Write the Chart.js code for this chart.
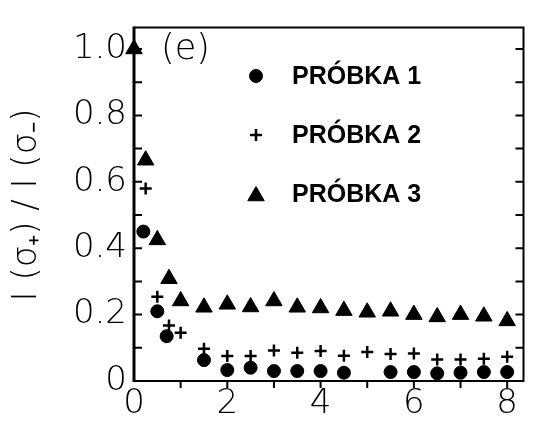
<!DOCTYPE html>
<html>
<head>
<meta charset="utf-8">
<script src="https://cdn.jsdelivr.net/npm/chart.js@4/dist/chart.umd.min.js"></script>
<style>
html,body{margin:0;padding:0;background:#fff;}
canvas{display:block;}
</style>
</head>
<body>
<canvas id="c" width="534" height="421"></canvas>
<script>
// ---- data ----
const seriesLabels = ['PRÓBKA 1', 'PRÓBKA 2', 'PRÓBKA 3'];
const x1 = [0.2, 0.5, 0.7, 1.5, 2.0, 2.5, 3.0, 3.5, 4.0, 4.5, 5.5, 6.0, 6.5, 7.0, 7.5, 8.0];
const y1 = [0.45, 0.21, 0.135, 0.063, 0.033, 0.04, 0.03, 0.03, 0.03, 0.025, 0.027, 0.027, 0.023, 0.025, 0.027, 0.027];
const x2 = [0.25, 0.5, 0.75, 1.0, 1.5, 2.0, 2.5, 3.0, 3.5, 4.0, 4.5, 5.0, 5.5, 6.0, 6.5, 7.0, 7.5, 8.0];
const y2 = [0.58, 0.254, 0.167, 0.145, 0.097, 0.075, 0.075, 0.092, 0.085, 0.09, 0.076, 0.087, 0.081, 0.083, 0.065, 0.065, 0.067, 0.073];
const x3 = [0, 0.25, 0.5, 0.75, 1.0, 1.5, 2.0, 2.5, 3.0, 3.5, 4.0, 4.5, 5.0, 5.5, 6.0, 6.5, 7.0, 7.5, 8.0];
const y3 = [1.0, 0.665, 0.425, 0.308, 0.241, 0.222, 0.231, 0.223, 0.241, 0.222, 0.22, 0.212, 0.207, 0.21, 0.2, 0.193, 0.2, 0.195, 0.181];
const xTickLabels = ['0', '2', '4', '6', '8'];
const yTickLabels = ['0', '0.2', '0.4', '0.6', '0.8', '1.0'];
const yTitle = 'I (σ₊) / I (σ₋)';
const panelLabel = '(e)';

const toPts = (xs, ys) => xs.map((x, i) => ({x: x, y: ys[i]}));

const LIGHT = '200 35px "DejaVu Sans"';

const framePlugin = {
  id: 'frame',
  afterDraw(chart) {
    const ctx = chart.ctx, a = chart.chartArea;
    const xs = chart.scales.x, ys = chart.scales.y;
    ctx.save();
    ctx.strokeStyle = '#000';
    ctx.lineCap = 'butt';
    // frame
    ctx.lineWidth = 2;
    ctx.beginPath();
    ctx.moveTo(a.left, a.top); ctx.lineTo(a.right, a.top);
    ctx.lineTo(a.right, a.bottom); ctx.lineTo(a.left, a.bottom);
    ctx.stroke();
    ctx.lineWidth = 3;
    ctx.beginPath();
    ctx.moveTo(a.left, a.top - 1); ctx.lineTo(a.left, a.bottom + 1);
    ctx.stroke();
    // y ticks (inward, both sides)
    ctx.lineWidth = 2;
    for (let i = 1; i <= 10; i++) {
      const py = ys.getPixelForValue(i / 10);
      ctx.beginPath();
      ctx.moveTo(a.left, py); ctx.lineTo(a.left + 8, py);
      ctx.moveTo(a.right, py); ctx.lineTo(a.right - 8, py);
      ctx.stroke();
    }
    // x ticks (outward)
    for (let i = 1; i <= 8; i++) {
      const px = xs.getPixelForValue(i);
      ctx.beginPath();
      ctx.moveTo(px, a.bottom); ctx.lineTo(px, a.bottom + 7);
      ctx.stroke();
    }
    // y axis title
    ctx.fillStyle = '#000';
    ctx.font = '200 34px "DejaVu Sans"';
    ctx.textAlign = 'center';
    ctx.textBaseline = 'middle';
    ctx.translate(27, 205);
    ctx.rotate(-Math.PI / 2);
    ctx.fillText(yTitle, 0, 0);
    ctx.restore();

    // panel label
    ctx.save();
    ctx.fillStyle = '#000';
    ctx.font = LIGHT;
    ctx.textAlign = 'left';
    ctx.textBaseline = 'middle';
    ctx.fillText(panelLabel, 161, 50);
    // legend
    const rowsY = [76, 135, 194];
    chart.data.datasets.forEach((ds, i) => {
      const style = {
        pointStyle: ds.pointStyle, radius: ds.pointRadius,
        rotation: 0, borderWidth: ds.borderWidth
      };
      ctx.fillStyle = '#000';
      ctx.strokeStyle = '#000';
      ctx.lineWidth = ds.borderWidth;
      Chart.helpers.drawPoint(ctx, style, 256, rowsY[i] + (ds.pointStyle === 'triangle' ? 2 : 0));
      ctx.fillStyle = '#000';
      ctx.font = 'bold 25px "Liberation Sans"';
      ctx.textBaseline = 'middle';
      ctx.fillText(ds.label, 292, rowsY[i] + 1);
    });
    ctx.restore();
  }
};

new Chart(document.getElementById('c'), {
  type: 'scatter',
  data: {
    datasets: [
      { label: seriesLabels[0], data: toPts(x1, y1), pointStyle: 'circle', pointRadius: 6.5,
        backgroundColor: '#000', borderColor: '#000', borderWidth: 1, clip: false },
      { label: seriesLabels[1], data: toPts(x2, y2), pointStyle: 'cross', pointRadius: 6,
        backgroundColor: '#000', borderColor: '#000', borderWidth: 2.5, clip: false },
      { label: seriesLabels[2], data: toPts(x3, y3), pointStyle: 'triangle', pointRadius: 9.5,
        backgroundColor: '#000', borderColor: '#000', borderWidth: 1, clip: false }
    ]
  },
  options: {
    responsive: false,
    animation: false,
    layout: { padding: { left: 0, right: 4, top: 13, bottom: 0 } },
    plugins: { legend: { display: false }, tooltip: { enabled: false } },
    scales: {
      x: {
        type: 'linear', min: 0, max: 8.35,
        border: { display: false },
        grid: { display: false, drawTicks: false },
        ticks: {
          stepSize: 1, includeBounds: false, padding: 3, color: '#000', maxRotation: 0,
          font: { family: 'DejaVu Sans', size: 34, weight: 200 },
          callback: v => (Math.abs(v % 2) < 1e-9 ? xTickLabels[Math.round(v / 2)] : '')
        },
        afterFit: s => { s.height = 40; }
      },
      y: {
        type: 'linear', min: 0, max: 1.065,
        border: { display: false },
        grid: { display: false, drawTicks: false },
        ticks: {
          stepSize: 0.1, includeBounds: false, padding: 7, color: '#000',
          font: { family: 'DejaVu Sans', size: 34, weight: 200 },
          callback: v => { const k = Math.round(v * 10); return k % 2 === 0 ? yTickLabels[k / 2] : ''; }
        },
        afterFit: s => { s.width = 134; }
      }
    }
  },
  plugins: [framePlugin]
});
</script>
</body>
</html>
